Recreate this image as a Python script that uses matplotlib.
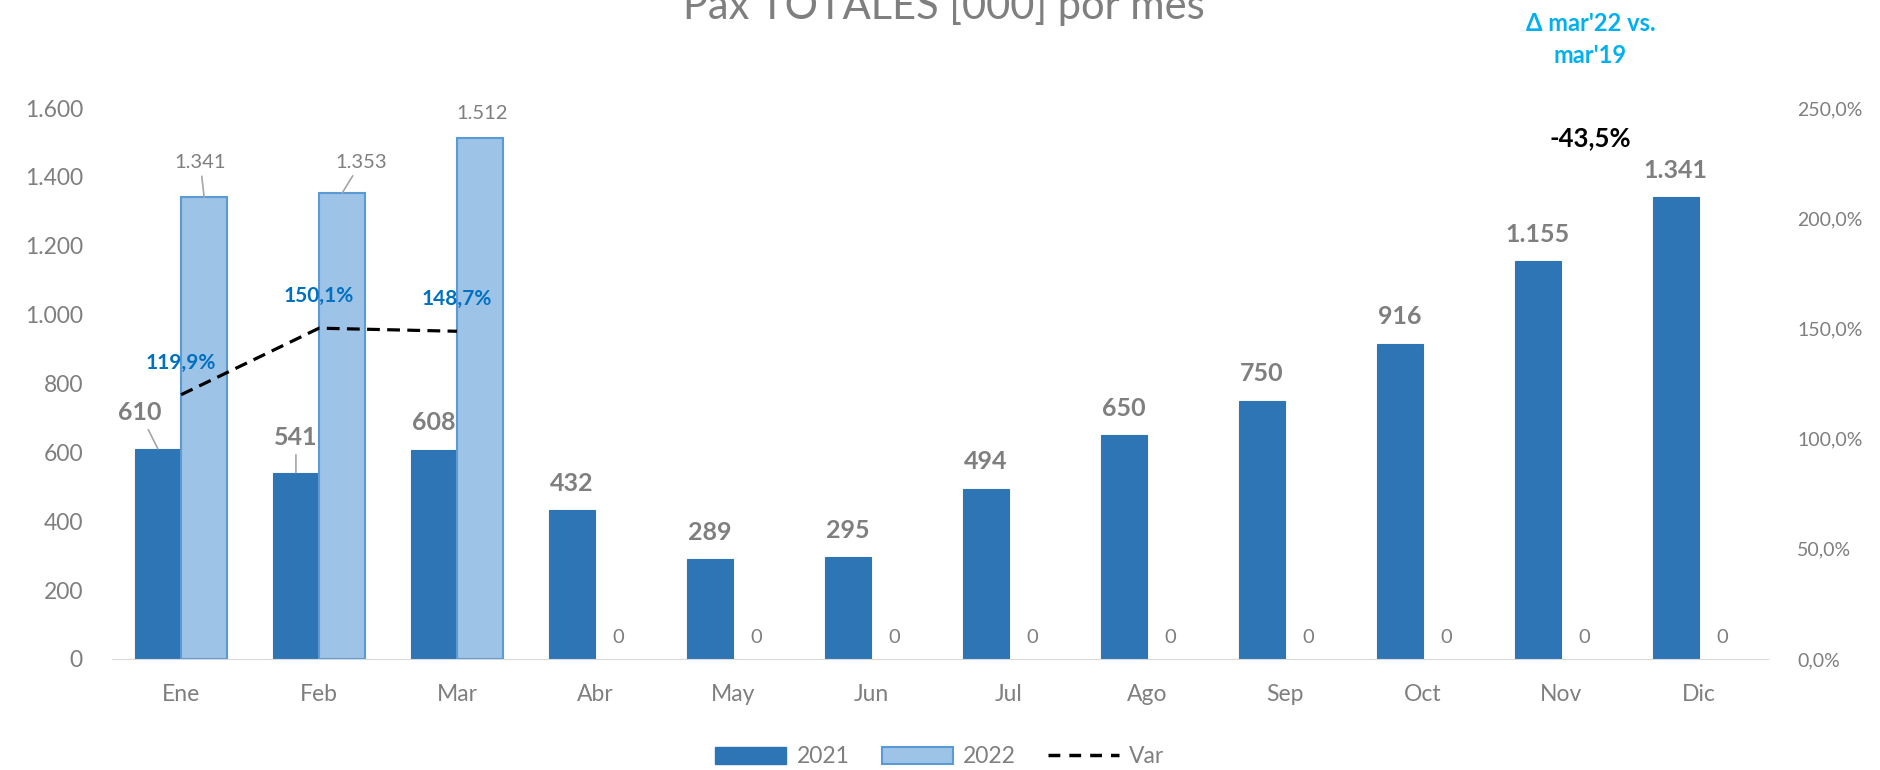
import matplotlib.pyplot as plt
from matplotlib.patches import Patch
from matplotlib.lines import Line2D
import numpy as np

# ── data ─────────────────────────────────────────────
months = ["Ene", "Feb", "Mar", "Abr", "May", "Jun",
          "Jul", "Ago", "Sep", "Oct", "Nov", "Dic"]
pax_2021 = [610, 541, 608, 432, 289, 295, 494, 650, 750, 916, 1155, 1341]
pax_2022 = [1341, 1353, 1512, 0, 0, 0, 0, 0, 0, 0, 0, 0]
var_pct = [119.9, 150.1, 148.7]          # % var 2022 vs 2021 (Ene-Mar)
delta_title = "Δ mar'22 vs.\nmar'19"
delta_value = "-43,5%"

# ── styles ───────────────────────────────────────────
C21 = "#2E75B6"
C22 = "#9DC3E6"
C22_EDGE = "#5B9BD5"
GREY = "#7F7F7F"
LEAD = "#A6A6A6"
plt.rcParams["font.family"] = ["Lato", "DejaVu Sans"]

# label offsets in pixels (dx, dy) from bar top; leader line flag
off21 = {0: (-18, 36, True), 1: (0, 35, True)}
off22 = {0: (-4, 35, True), 1: (19, 31, True), 2: (2, 25, False)}


def fmt(v):
    return f"{v:,}".replace(",", ".")


fig = plt.figure(figsize=(18.8, 7.7), dpi=100)
ax = fig.add_axes([0.0596, 0.1442, 0.8808, 0.7155])
ax2 = ax.twinx()

x = np.arange(len(months))
w = 0.335
ax.bar(x - w / 2, pax_2021, w, color=C21, edgecolor=C21, linewidth=0.8, zorder=2)
ax.bar(x + w / 2, pax_2022, w, color=C22, edgecolor=C22_EDGE,
       linewidth=[1.5 if v > 0 else 0 for v in pax_2022], zorder=2)

ax.set_xlim(-0.5, len(months) - 0.5)
ax.set_ylim(0, 1600)
ax.set_yticks(range(0, 1601, 200))
ax.set_yticklabels([fmt(v) for v in range(0, 1601, 200)])
ax.set_xticks(x)
ax.set_xticklabels(months)
ax.tick_params(axis="y", length=0, pad=21, labelsize=16.5, labelcolor=GREY)
ax.tick_params(axis="x", length=0, pad=18, labelsize=16.5, labelcolor=GREY)
for s in ["top", "right", "left"]:
    ax.spines[s].set_visible(False)
ax.spines["bottom"].set_color("#D9D9D9")
ax.spines["bottom"].set_zorder(3)

ax2.set_ylim(0, 2.5)
ax2.set_yticks(np.arange(0, 2.51, 0.5))
ax2.set_yticklabels([f"{v * 100:.1f}%".replace(".", ",") for v in np.arange(0, 2.51, 0.5)])
ax2.tick_params(axis="y", length=0, pad=21, labelsize=14, labelcolor=GREY)
for s in ax2.spines.values():
    s.set_visible(False)

# bar labels 2021
for i, v in enumerate(pax_2021):
    dx, dy, lead = off21.get(i, (0, 27, False))
    ax.annotate(fmt(v), xy=(x[i] - w / 2, v), xytext=(dx, dy), textcoords="offset pixels",
                ha="center", va="center", fontsize=18, fontweight="bold", color=GREY,
                arrowprops=dict(arrowstyle="-", color=LEAD, lw=1.2, shrinkA=2, shrinkB=0) if lead else None,
                zorder=4)

# bar labels 2022
for i, v in enumerate(pax_2022):
    dx, dy, lead = off22.get(i, (0, 21, False))
    ax.annotate(fmt(v), xy=(x[i] + w / 2, v), xytext=(dx, dy), textcoords="offset pixels",
                ha="center", va="center", fontsize=14.5, color=GREY,
                arrowprops=dict(arrowstyle="-", color=LEAD, lw=1.2, shrinkA=2, shrinkB=0) if lead else None,
                zorder=4)

# variation line
var_x = x[:len(var_pct)]
var_y = [v / 100 for v in var_pct]
ax2.plot(var_x, var_y, color="black", lw=2.3, dashes=(4, 2.3), zorder=3)
for xi, yi, v in zip(var_x, var_y, var_pct):
    ax2.annotate(f"{v:.1f}%".replace(".", ","), xy=(xi, yi), xytext=(0, 32),
                 textcoords="offset pixels", ha="center", va="center",
                 fontsize=15, fontweight="bold", color="#0070C0")

# title (partly cut at top, as in original)
fig.text(0.502, 0.975, "Pax TOTALES [000] por mes", ha="center", va="baseline",
         fontsize=30, color=GREY)

fig.text(0.846, 0.949, delta_title, ha="center", va="center", fontsize=17,
         fontweight="bold", color="#00B0F0", linespacing=1.45)
fig.text(0.846, 0.821, delta_value, ha="center", va="center", fontsize=18.5,
         fontweight="bold", color="black")

handles = [Patch(facecolor=C21, edgecolor=C21),
           Patch(facecolor=C22, edgecolor=C22_EDGE, linewidth=1.5),
           Line2D([0], [0], color="black", lw=2.5, dashes=(3.4, 2.6))]
fig.legend(handles, ["2021", "2022", "Var"], loc="center", bbox_to_anchor=(0.5, 0.017),
           ncol=3, frameon=False, fontsize=16.5, labelcolor=GREY,
           handlelength=3.1, handleheight=0.75, columnspacing=1.4, handletextpad=0.45)

plt.savefig("out.png", dpi=100)
